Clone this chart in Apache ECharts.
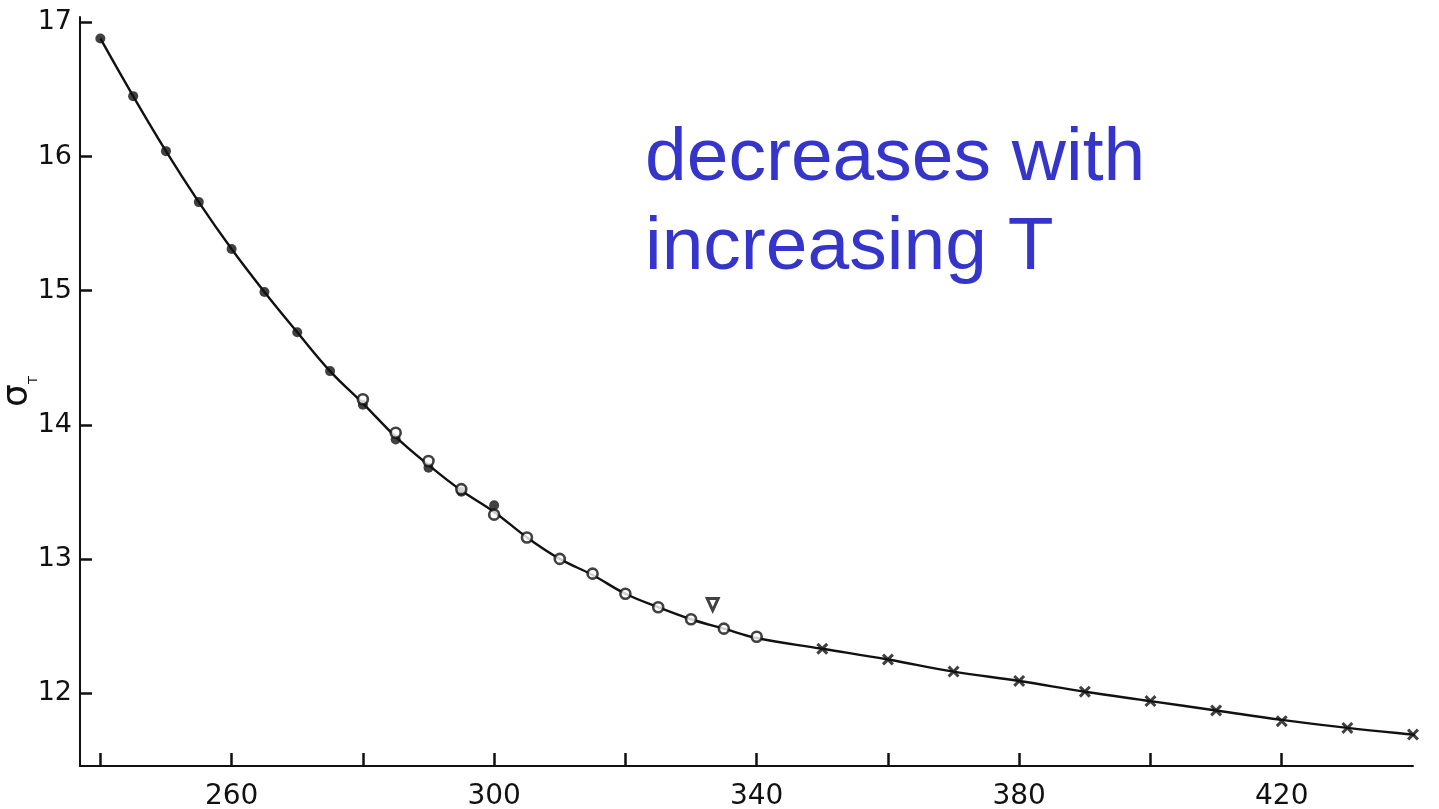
<!DOCTYPE html>
<html>
<head>
<meta charset="utf-8">
<script src="https://cdn.jsdelivr.net/npm/echarts@6/dist/echarts.min.js"></script>
<style>
html,body{margin:0;padding:0;background:#fff;}
#chart{width:1439px;height:809px;}
</style>
</head>
<body>
<div id="chart"></div>
<script>
// ---- data ----
const filledT = [240,245,250,255,260,265,270,275,280,285,290,295,300];
const filledS = [16.88,16.45,16.04,15.66,15.31,14.99,14.69,14.40,14.15,13.89,13.68,13.50,13.40];

const openT = [280,285,290,295,300,305,310,315,320,325,330,335,340];
const openS = [14.19,13.94,13.73,13.52,13.33,13.16,13.00,12.89,12.74,12.64,12.55,12.48,12.42];

const crossT = [350,360,370,380,390,400,410,420,430,440];
const crossS = [12.33,12.25,12.16,12.09,12.01,11.94,11.87,11.79,11.74,11.69];

const triT = [333.3];
const triS = [12.66];

const curveT = [240,245,250,255,260,265,270,275,280,285,290,295,300,305,310,315,320,325,330,335,340,350,360,370,380,390,400,410,420,430,440,444.5];
const curveS = [16.88,16.45,16.04,15.66,15.31,14.99,14.69,14.40,14.16,13.91,13.70,13.51,13.35,13.16,13.00,12.88,12.74,12.64,12.55,12.48,12.41,12.33,12.25,12.16,12.09,12.01,11.94,11.87,11.80,11.74,11.69,11.67];

const xTicks = [240,260,280,300,320,340,360,380,400,420];
const xLabels = [260,300,340,380,420];
const yTicks = [12,13,14,15,16,17];
const yLabels = [12,13,14,15,16,17];

const annotationLines = ['decreases with', 'increasing T'];

// ---- build chart ----
const zip = (a, b) => a.map((v, i) => [v, b[i]]);
const ink = '#111';
const crossPath = 'path://M0,1.8 L1.8,0 L5,3.2 L8.2,0 L10,1.8 L6.8,5 L10,8.2 L8.2,10 L5,6.8 L1.8,10 L0,8.2 L3.2,5 Z';

const chart = echarts.init(document.getElementById('chart'), null, {renderer: 'canvas'});
chart.setOption({
  animation: false,
  backgroundColor: '#fff',
  grid: {left: 80, right: 26, top: 17, bottom: 43, containLabel: false, outerBoundsMode: 'none'},
  xAxis: {
    type: 'value',
    min: 236.9,
    max: 440,
    axisLine: {show: true, lineStyle: {color: ink, width: 2}},
    axisTick: {show: true, inside: true, length: 13, customValues: xTicks, lineStyle: {color: ink, width: 2.5}},
    axisLabel: {show: true, customValues: xLabels, margin: 17, color: ink, fontSize: 28, fontFamily: 'DejaVu Sans'},
    splitLine: {show: false}
  },
  yAxis: {
    type: 'value',
    min: 11.456,
    max: 17.04,
    name: '{s|σ}{t|T}',
    nameLocation: 'middle',
    nameRotate: 90,
    nameGap: 44,
    nameMoveOverlap: false,
    nameTextStyle: {
      rich: {
        s: {fontSize: 36, fontFamily: 'DejaVu Sans', color: ink},
        t: {fontSize: 13, fontFamily: 'DejaVu Sans', color: ink, verticalAlign: 'bottom', padding: [0,0,-4,0]}
      }
    },
    axisLine: {show: true, lineStyle: {color: ink, width: 2}},
    axisTick: {show: true, inside: true, length: 12, customValues: yTicks, lineStyle: {color: ink, width: 2.5}},
    axisLabel: {show: true, customValues: yLabels, margin: 8, color: ink, fontSize: 27, fontFamily: 'DejaVu Sans'},
    splitLine: {show: false}
  },
  series: [
    {
      type: 'line', data: zip(curveT, curveS), smooth: 0.4, showSymbol: false, clip: false,
      lineStyle: {color: ink, width: 2.4}, z: 1, silent: true
    },
    {
      type: 'scatter', data: zip(filledT, filledS), symbol: 'circle', symbolSize: 10,
      itemStyle: {color: ink}, z: 3
    },
    {
      type: 'scatter', data: zip(openT, openS), symbol: 'circle', symbolSize: 10,
      itemStyle: {color: '#fff', borderColor: ink, borderWidth: 2.6}, z: 4
    },
    {
      type: 'scatter', data: zip(crossT, crossS), symbol: crossPath, symbolSize: 12,
      itemStyle: {color: ink}, z: 3
    },
    {
      type: 'scatter', data: zip(triT, triS), symbol: 'triangle', symbolRotate: 180, symbolSize: [11, 12],
      itemStyle: {color: '#fff', borderColor: ink, borderWidth: 3}, z: 3
    }
  ],
  graphic: [
    {type: 'text', left: 645, top: 122, style: {text: annotationLines[0], fill: '#3535cc', font: '75px "Liberation Sans", Arial, sans-serif'}},
    {type: 'text', left: 645, top: 211, style: {text: annotationLines[1], fill: '#3535cc', font: '75px "Liberation Sans", Arial, sans-serif'}}
  ]
});
</script>
</body>
</html>
